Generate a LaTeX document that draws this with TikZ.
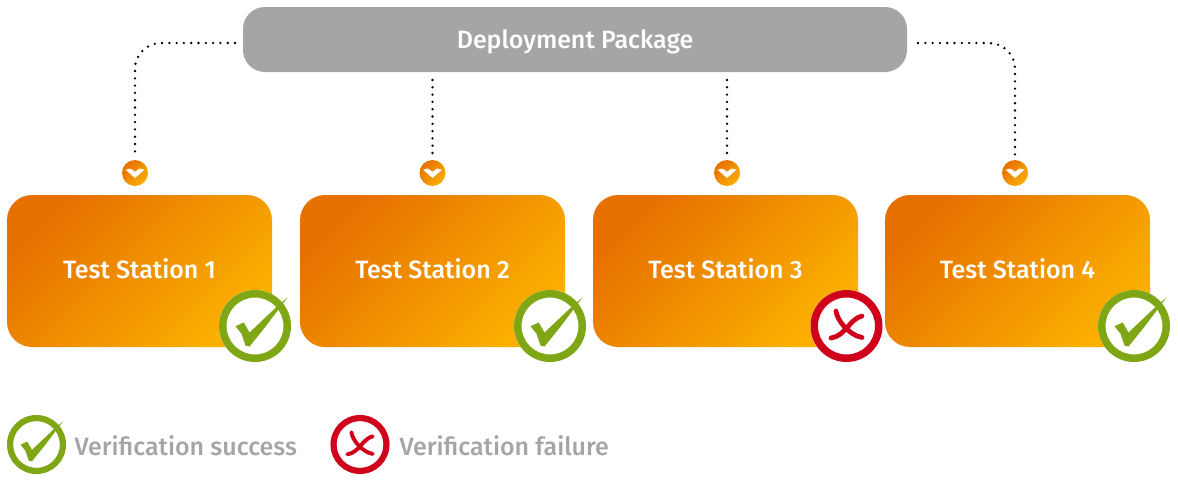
\documentclass[tikz,border=0pt]{standalone}
\usepackage{fontspec}
\setmainfont{Fira Sans}[BoldFont=* Medium]
\definecolor{pkggray}{HTML}{A5A5A5}
\definecolor{deeporange}{HTML}{E67000}
\definecolor{liteorange}{HTML}{FBB000}
\definecolor{okgreen}{HTML}{7FA614}
\definecolor{badred}{HTML}{D0021B}
\tikzset{
        package/.style={rectangle, rounded corners=22pt, fill=pkggray, text=white, minimum width=664pt, minimum height=65pt, text height=20pt, text depth=3pt, font=\fontsize{25}{30}\selectfont\bfseries},
        station/.style={rectangle, rounded corners=25pt, text=white, minimum width=265pt, minimum height=152pt, text height=19pt, text depth=4pt, font=\fontsize{25}{30}\selectfont\bfseries,
          shade, shading=axis, left color=deeporange, right color=liteorange, shading angle=45},
        chevron/.style={circle, inner sep=0pt, minimum size=26pt, shade, shading=axis, left color=liteorange, right color=deeporange, shading angle=-135,
          path picture={\fill[white] (-9.5,-3.3) -- (-4.7,-4.5) -- (0,-1.3) -- (4.7,-4.5) -- (9.5,-3.3) -- (0,5) -- cycle;}},
        link/.style={draw=black, line width=2.6pt, line cap=round, dash pattern=on 0pt off 7.3pt, rounded corners=26pt, shorten >=3pt},
        legendtext/.style={anchor=west, text=pkggray, font=\fontsize{25}{30}\selectfont\bfseries},
        okmark/.pic={
          \fill[white] (0,0) circle (36);
          \fill[okgreen, even odd rule] (0,0) circle (36) (0,0) circle (28.5);
          \fill[okgreen] (-19.5,0.3) -- (-11.3,-3.6) -- (-5.5,6.5) -- (22,-19.5) -- (32.5,-28.5) -- (11,0) -- (-5.5,20.5) -- (-9.5,19.5) -- (-13.5,7.7) -- cycle;
        },
        badmark/.pic={
          \fill[white] (0,0) circle (36);
          \fill[badred, even odd rule] (0,0) circle (36) (0,0) circle (28.5);
          \draw[badred, line cap=round, pic actions] (-10.5,-15) .. controls (-9.5,-6) and (2,9) .. (15.5,11.5);
          \draw[badred, line cap=round, pic actions] (15.5,-10) .. controls (3,-7) and (-1,10) .. (-15.5,12);
        }
          }

\begin{document}
\begin{tikzpicture}[x=1pt, y=-1pt]
            \useasboundingbox (0,0) rectangle (1178,482);
            \node[package] (pkg) at (575,39.5) {Deployment Package};

            \node[station] (st1) at (139.5,271) {Test Station 1};
            \node[station] (st2) at (432.5,271) {Test Station 2};
            \node[station] (st3) at (725.5,271) {Test Station 3};
            \node[station] (st4) at (1017.5,271) {Test Station 4};

            \node[chevron] (chev1) at (135,173) {};
            \node[chevron] (chev2) at (432.5,173) {};
            \node[chevron] (chev3) at (727,173) {};
            \node[chevron] (chev4) at (1015,173) {};

            \coordinate (tap1) at (235,43);
            \coordinate (tap2) at (432.5,80);
            \coordinate (tap3) at (727,80);
            \coordinate (tap4) at (918,43);
            \draw[link] (tap1) -| (chev1);
            \draw[link] (tap2) -- (chev2);
            \draw[link] (tap3) -- (chev3);
            \draw[link] (tap4) -| (chev4);

            \pic at (255,326) {okmark};
            \pic at (550,326) {okmark};
            \pic[line width=4.8pt] at (846.5,326) {badmark};
            \pic at (1134,326) {okmark};

            \pic[scale=0.82] at (36.5,444.5) {okmark};
            \node[legendtext] (oktext) at (71,446) {Verification success};
            \pic[scale=0.82, line width=3.9pt] at (360,444.5) {badmark};
            \node[legendtext] (badtext) at (396,446) {Verification failure};
          \end{tikzpicture}
\end{document}
